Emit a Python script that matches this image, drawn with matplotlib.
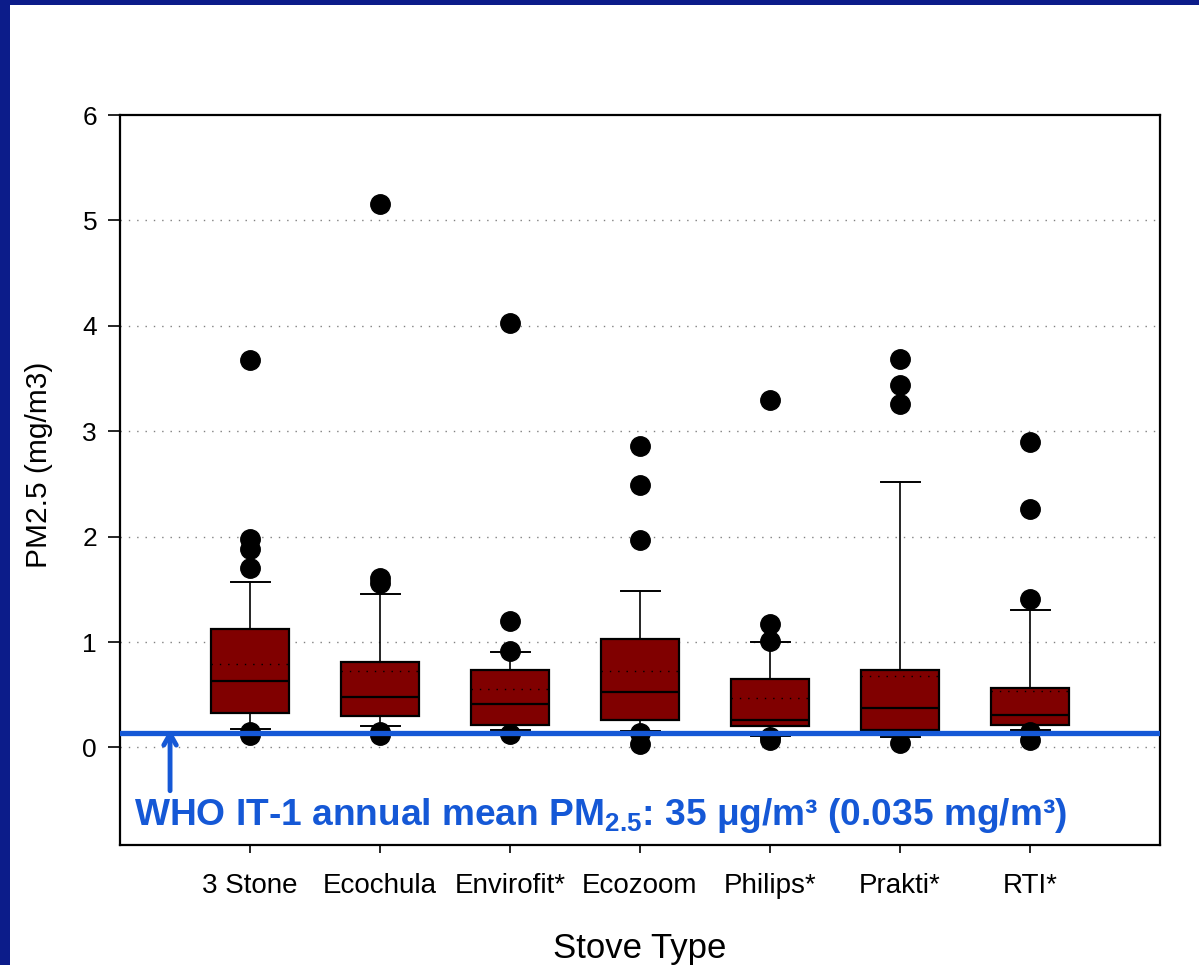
import matplotlib
matplotlib.use("Agg")
import matplotlib.pyplot as plt
from matplotlib.patches import Rectangle

plt.rcParams['font.family'] = ['Liberation Sans', 'DejaVu Sans']
plt.rcParams['mathtext.fontset'] = 'custom'
plt.rcParams['mathtext.rm'] = 'Liberation Sans:bold'
plt.rcParams['mathtext.bf'] = 'Liberation Sans:bold'
plt.rcParams['mathtext.it'] = 'Liberation Sans:bold'

# ---- data ----
stoves = ["3 Stone", "Ecochula", "Envirofit*", "Ecozoom", "Philips*", "Prakti*", "RTI*"]
q1 = [0.325, 0.30, 0.21, 0.258, 0.20, 0.163, 0.213]
medians = [0.633, 0.48, 0.41, 0.523, 0.258, 0.37, 0.31]
q3 = [1.12, 0.81, 0.735, 1.025, 0.65, 0.735, 0.565]
means = [0.79, 0.73, 0.555, 0.73, 0.47, 0.68, 0.535]
whisker_low = [0.175, 0.20, 0.165, 0.16, 0.106, 0.10, 0.17]
whisker_high = [1.57, 1.455, 0.91, 1.48, 1.00, 2.52, 1.30]
outliers = [
    [3.68, 1.98, 1.88, 1.70, 0.15, 0.12],
    [5.16, 1.61, 1.56, 0.15, 0.12],
    [4.03, 1.20, 0.92, 0.13],
    [2.86, 2.49, 1.97, 0.137, 0.033],
    [3.30, 1.17, 1.01, 0.10, 0.07],
    [3.69, 3.44, 3.26, 0.04],
    [2.90, 2.26, 1.41, 0.15, 0.07],
]
who_limit = 0.133
yticks = [0, 1, 2, 3, 4, 5, 6]

fig = plt.figure(figsize=(11.99, 9.65), dpi=100)
fig.patch.set_facecolor('white')

# dark blue slide frame (left and top)
frame_col = '#0c1c8a'
fig.patches.append(Rectangle((0, 0), 10 / 1199, 1, transform=fig.transFigure,
                             facecolor=frame_col, edgecolor='none', zorder=0))
fig.patches.append(Rectangle((0, 1 - 5 / 965), 1, 5 / 965, transform=fig.transFigure,
                             facecolor=frame_col, edgecolor='none', zorder=0))

ax = fig.add_axes([120 / 1199, 1 - 845 / 965, 1040 / 1199, 730 / 965])

stats = []
for i, name in enumerate(stoves):
    stats.append(dict(label=name, q1=q1[i], med=medians[i], q3=q3[i], mean=means[i],
                      whislo=whisker_low[i], whishi=whisker_high[i], fliers=outliers[i]))

positions = list(range(1, len(stoves) + 1))
ax.bxp(stats, positions=positions, widths=0.6, patch_artist=True,
       showmeans=True, meanline=True,
       boxprops=dict(facecolor='#800000', edgecolor='black', linewidth=1.6),
       medianprops=dict(color='black', linewidth=1.6),
       meanprops=dict(color='black', linestyle=(0, (1, 5)), linewidth=1.0),
       whiskerprops=dict(color='black', linewidth=1.2),
       capprops=dict(color='black', linewidth=1.4),
       flierprops=dict(marker='o', markerfacecolor='black', markeredgecolor='black',
                       markersize=14, linestyle='none'),
       zorder=3)

ax.set_xlim(0, 8)
ax.set_ylim(-0.925, 6)
ax.set_yticks(yticks)
ax.set_yticklabels([str(t) for t in yticks])
ax.set_xticks(positions)
ax.set_xticklabels(stoves)

for y in yticks[:-1]:
    ax.axhline(y, color='#808080', linestyle=(0, (1, 5)), linewidth=1.0, zorder=1)

ax.tick_params(axis='y', direction='out', length=8.5, width=1.2, pad=8, labelsize=19)
ax.tick_params(axis='x', direction='out', length=6, width=1.2, pad=14, labelsize=20)
for s in ax.spines.values():
    s.set_linewidth(1.6)
    s.set_color('black')

ax.set_ylabel("PM2.5 (mg/m3)", fontsize=21.5)
ax.yaxis.set_label_coords(-0.064, 0.521)
ax.set_xlabel("Stove Type", fontsize=25, labelpad=24)

blue = '#1558d6'
ax.axhline(who_limit, color=blue, linewidth=3.8, zorder=5)
ax.annotate('', xy=(0.385, 0.175), xytext=(0.385, -0.41),
            arrowprops=dict(arrowstyle='->,head_length=0.8,head_width=0.45',
                            color=blue, lw=3.5, shrinkA=0, shrinkB=0), zorder=6)
ax.text(0.11, -0.645,
        r'WHO IT-1 annual mean PM$_{\mathbf{2.5}}$: 35 μg/m³ (0.035 mg/m³)',
        color=blue, fontsize=26.7, fontweight='bold', ha='left', va='center', zorder=6)

fig.savefig('out.png', dpi=100, facecolor=fig.get_facecolor())
